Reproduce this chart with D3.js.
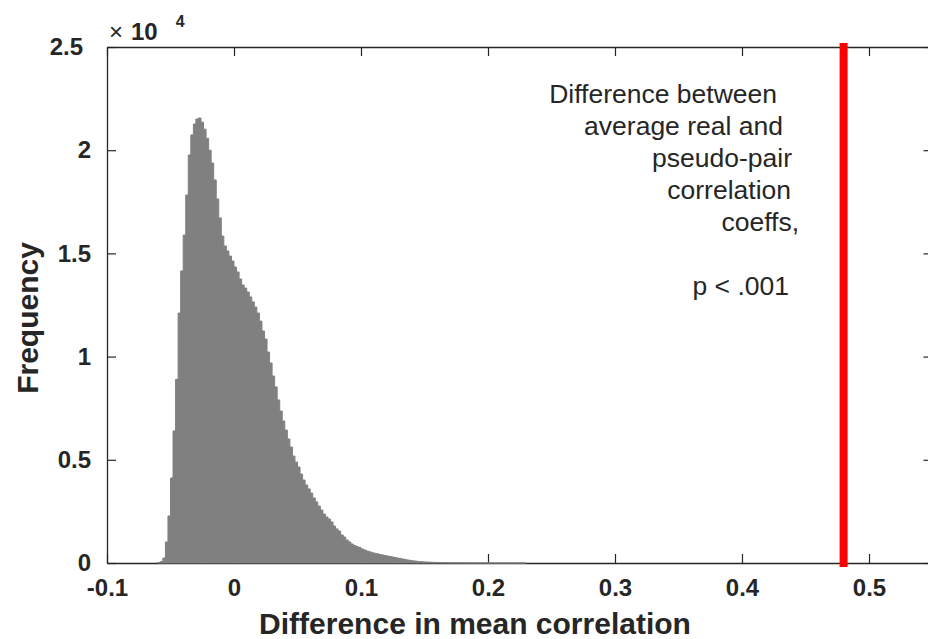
<!DOCTYPE html>
<html>
<head>
<meta charset="utf-8">
<script src="https://cdn.jsdelivr.net/npm/d3@7"></script>
<style>
  body { margin: 0; background: #fff; }
  svg { display: block; font-family: "Liberation Sans", Arial, Helvetica, sans-serif; }
</style>
</head>
<body>
<div id="chart"></div>
<script>
// histogram of the permutation differences (bin width 0.002)
const binStart = -0.06;
const binWidth = 0.002;
const counts = [
  25, 70, 240, 1020, 2280, 4120, 6400, 8900, 12110, 14150,
  15890, 17830, 19770, 20740, 21270, 21510, 21560, 21360, 21020, 20580,
  20000, 19380, 18560, 17640, 16720, 15840, 15360, 15120, 14870, 14630,
  14340, 14100, 13760, 13470, 13320, 13130, 12890, 12650, 12400, 12110,
  11720, 11240, 10850, 10220, 9690, 9060, 8530, 7900, 7360, 6880,
  6440, 6010, 5620, 5180, 4890, 4650, 4310, 4020, 3780, 3590,
  3390, 3150, 2960, 2760, 2570, 2370, 2230, 2130, 1990, 1790,
  1650, 1550, 1360, 1260, 1110, 1020, 920, 850, 800, 750,
  680, 630, 580, 540, 500, 470, 450, 410, 390, 365,
  340, 315, 290, 265, 240, 220, 195, 170, 145, 125,
  105, 92, 78, 68, 58, 50, 44, 38, 33, 29,
  25, 22, 19, 17, 15, 13, 12, 11, 10, 9,
  8, 7, 6, 6, 5, 5, 4, 4, 4, 3,
  3, 3, 3, 2, 2, 2, 2, 2, 1, 1,
  1, 1, 1, 1, 1
];
const observedDiff = 0.48;

const xTicks = [-0.1, 0, 0.1, 0.2, 0.3, 0.4, 0.5];
const yTicks = [0, 5000, 10000, 15000, 20000, 25000];
const noteLines = ["Difference between", "average real and", "pseudo-pair", "correlation", "coeffs,", "", "p < .001"];

const W = 928, H = 639;
const margin = { left: 107, right: 932.5, top: 47, bottom: 563 };
const axisColor = "#262626";
const tickLen = 9;

const svg = d3.select("#chart").append("svg")
  .attr("width", W)
  .attr("height", H);

const x = d3.scaleLinear().domain([-0.1, 0.55]).range([margin.left, margin.right]);
const y = d3.scaleLinear().domain([0, 25000]).range([margin.bottom, margin.top]);

const fmtX = (d) => (d === 0 ? "0" : d3.format(".1f")(d).replace("−", "-"));
const fmtY = (d) => String(d / 10000);

// axes box with inward ticks
const axes = svg.append("g").attr("color", axisColor);

axes.append("g")
  .attr("transform", `translate(0,${margin.bottom})`)
  .call(d3.axisBottom(x).tickValues(xTicks).tickSizeInner(-tickLen).tickSizeOuter(0).tickPadding(16).tickFormat(fmtX))
  .call((g) => g.select(".domain").attr("stroke-width", 1.3))
  .call((g) => g.selectAll(".tick line").attr("stroke-width", 1.2))
  .call((g) => g.selectAll("text").attr("font-size", 24).attr("font-weight", "bold").attr("fill", axisColor));

axes.append("g")
  .attr("transform", `translate(0,${margin.top})`)
  .call(d3.axisTop(x).tickValues(xTicks).tickSizeInner(-tickLen).tickSizeOuter(0).tickFormat(""))
  .call((g) => g.select(".domain").attr("stroke-width", 1.3))
  .call((g) => g.selectAll(".tick line").attr("stroke-width", 1.2));

axes.append("g")
  .attr("transform", `translate(${margin.left},0)`)
  .call(d3.axisLeft(y).tickValues(yTicks).tickSizeInner(-tickLen).tickSizeOuter(0).tickPadding(16).tickFormat(fmtY))
  .call((g) => g.select(".domain").attr("stroke-width", 1.3))
  .call((g) => g.selectAll(".tick line").attr("stroke-width", 1.2))
  .call((g) => g.selectAll("text").attr("font-size", 24).attr("font-weight", "bold").attr("fill", axisColor))
  .call((g) => g.selectAll(".tick").filter((d) => d === 25000).select("text").attr("dx", -8));

axes.append("g")
  .attr("transform", `translate(${margin.right},0)`)
  .call(d3.axisRight(y).tickValues(yTicks).tickSizeInner(-tickLen).tickSizeOuter(0).tickFormat(""))
  .call((g) => g.select(".domain").attr("stroke-width", 1.3))
  .call((g) => g.selectAll(".tick line").attr("stroke-width", 1.2));

// exponent label
const expo = svg.append("text")
  .attr("x", margin.left + 2)
  .attr("y", 40)
  .attr("fill", axisColor);
expo.append("tspan").attr("font-size", 24).text("×");
expo.append("tspan").attr("font-size", 24).attr("font-weight", "bold").attr("dx", 8).text("10");
expo.append("tspan").attr("font-size", 16).attr("font-weight", "bold").attr("dx", 18).attr("dy", -13).text("4");

// histogram
const bins = counts.map((c, i) => ({ x0: binStart + i * binWidth, count: c }));
bins.push({ x0: binStart + counts.length * binWidth, count: counts[counts.length - 1] });

const area = d3.area()
  .curve(d3.curveStepAfter)
  .x((d) => x(d.x0))
  .y0(y(0))
  .y1((d) => y(d.count));

svg.append("path")
  .attr("d", area(bins))
  .attr("fill", "#808080")
  .attr("stroke", "#808080")
  .attr("stroke-width", 1);

// observed value
svg.append("line")
  .attr("x1", x(observedDiff))
  .attr("x2", x(observedDiff))
  .attr("y1", y(25000))
  .attr("y2", y(0))
  .attr("stroke", "#ff0000")
  .attr("stroke-width", 8)
  .attr("stroke-linecap", "square");

// annotation, right aligned lines with slightly ragged edges as in the figure
const noteRight = [777, 783, 792, 791, 799, 0, 789];
svg.append("g")
  .selectAll("text")
  .data(noteLines)
  .join("text")
  .attr("x", (d, i) => noteRight[i])
  .attr("y", (d, i) => 103 + i * 32)
  .attr("text-anchor", "end")
  .attr("font-size", 26.5)
  .attr("fill", axisColor)
  .text((d) => d);

// axis labels
svg.append("text")
  .attr("x", 475)
  .attr("y", 634)
  .attr("text-anchor", "middle")
  .attr("font-size", 30)
  .attr("font-weight", "bold")
  .attr("fill", axisColor)
  .text("Difference in mean correlation");

svg.append("text")
  .attr("transform", `translate(38,318) rotate(-90)`)
  .attr("text-anchor", "middle")
  .attr("font-size", 30)
  .attr("font-weight", "bold")
  .attr("fill", axisColor)
  .text("Frequency");
</script>
</body>
</html>
